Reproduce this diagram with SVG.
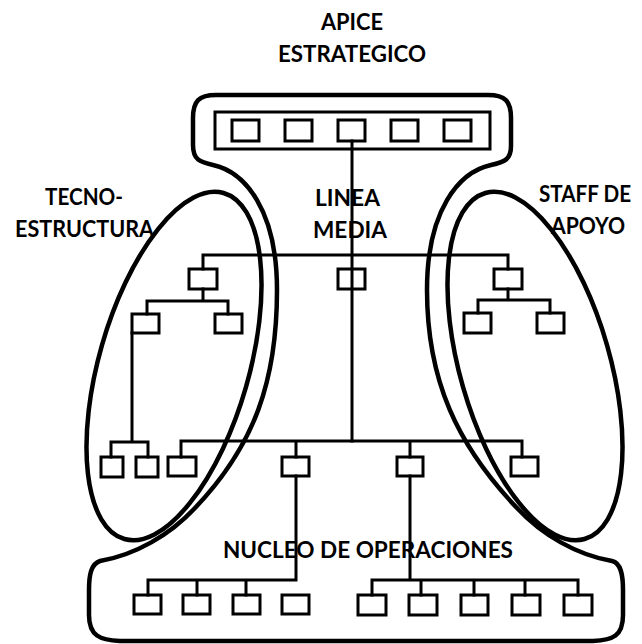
<svg xmlns="http://www.w3.org/2000/svg" width="642" height="644" viewBox="0 0 642 644">
<style>
.outline{fill:none;stroke:#000;stroke-width:4.5;stroke-linejoin:round}
.ln{fill:none;stroke:#000;stroke-width:3;stroke-linecap:square}
.box{fill:none;stroke:#000;stroke-width:3}
.lbl{font-family:Lato,"Open Sans","Liberation Sans",sans-serif;font-weight:bold;font-size:23px;fill:#000}
</style>
<rect width="642" height="644" fill="#fff"/>
<g id="outline">
<path class="outline" d="M216 95 L488 95 C505 95 511 101 511 118 L511 146 C511 160 504 162 491 165 C459 172 427 210 427 290 C427 380 457 445 517 508 C542 535 577 555 612 561 C621 563 623 575 623 590 L623 615 C623 636 613 640 593 641 L120 641 C100 640 89 636 89 615 L89 590 C89 575 91 564 100 561 C135 555 170 535 195 508 C255 445 277 380 277 290 C277 210 245 172 213 165 C200 162 193 160 193 145 L193 118 C193 101 199 95 216 95 Z"/>
<ellipse class="outline" cx="174" cy="366" rx="75" ry="180" transform="rotate(16 174 366)"/>
<ellipse class="outline" cx="535" cy="366" rx="75" ry="180" transform="rotate(-16 535 366)"/>
</g>
<g id="connectors">
<path class="ln" d="M352 141 V441"/>
<path class="ln" d="M203 255 H508 M203 255 V269 M508 255 V269"/>
<path class="ln" d="M203 289 V301 M147 301 H228 M147 301 V314 M228 301 V314"/>
<path class="ln" d="M132 333 V442 M111 442 H148 M111 442 V457 M148 442 V457"/>
<path class="ln" d="M508 289 V300 M478 300 H550 M478 300 V313 M550 300 V313"/>
<path class="ln" d="M181 441 H522 M181 441 V457 M296 441 V457 M410 441 V457 M522 441 V457"/>
<path class="ln" d="M296 476 V580 M148 580 H296 M148 580 V595 M197 580 V595 M246 580 V595"/>
<path class="ln" d="M410 476 V580 M372 580 H578 M372 580 V595 M421 580 V595 M474 580 V595 M525 580 V595 M578 580 V595"/>
</g>
<g id="apice">
<rect class="box" x="215" y="112" width="275" height="37"/>
<rect class="box" x="232" y="120" width="27" height="21"/>
<rect class="box" x="285" y="120" width="27" height="21"/>
<rect class="box" x="338" y="120" width="27" height="21"/>
<rect class="box" x="391" y="120" width="27" height="21"/>
<rect class="box" x="444" y="120" width="27" height="21"/>
<text class="lbl" x="321" y="30" textLength="62" lengthAdjust="spacingAndGlyphs">APICE</text>
<text class="lbl" x="278" y="62" textLength="148" lengthAdjust="spacingAndGlyphs">ESTRATEGICO</text>
</g>
<g id="linea-media">
<rect class="box" x="338" y="269" width="27" height="20"/>
<text class="lbl" x="315" y="206" textLength="65" lengthAdjust="spacingAndGlyphs">LINEA</text>
<text class="lbl" x="313" y="238" textLength="74" lengthAdjust="spacingAndGlyphs">MEDIA</text>
</g>
<g id="tecnoestructura">
<rect class="box" x="189" y="269" width="28" height="20"/>
<rect class="box" x="132" y="314" width="27" height="19"/>
<rect class="box" x="215" y="314" width="27" height="19"/>
<rect class="box" x="101" y="457" width="22" height="20"/>
<rect class="box" x="136" y="457" width="22" height="20"/>
<text class="lbl" x="45" y="205" textLength="78" lengthAdjust="spacingAndGlyphs">TECNO-</text>
<text class="lbl" x="15" y="237" textLength="139" lengthAdjust="spacingAndGlyphs">ESTRUCTURA</text>
</g>
<g id="staff-apoyo">
<rect class="box" x="494" y="269" width="28" height="20"/>
<rect class="box" x="464" y="313" width="27" height="20"/>
<rect class="box" x="537" y="313" width="27" height="20"/>
<text class="lbl" x="539" y="202" textLength="92" lengthAdjust="spacingAndGlyphs">STAFF DE</text>
<text class="lbl" x="551" y="234" textLength="74" lengthAdjust="spacingAndGlyphs">APOYO</text>
</g>
<g id="mandos-intermedios">
<rect class="box" x="168" y="457" width="28" height="19"/>
<rect class="box" x="282" y="457" width="27" height="19"/>
<rect class="box" x="397" y="457" width="26" height="19"/>
<rect class="box" x="511" y="457" width="27" height="19"/>
</g>
<g id="nucleo">
<rect class="box" x="134" y="595" width="27" height="19"/>
<rect class="box" x="183" y="595" width="27" height="19"/>
<rect class="box" x="233" y="595" width="27" height="19"/>
<rect class="box" x="282" y="595" width="27" height="19"/>
<rect class="box" x="358" y="595" width="28" height="20"/>
<rect class="box" x="409" y="595" width="28" height="20"/>
<rect class="box" x="461" y="595" width="27" height="20"/>
<rect class="box" x="512" y="595" width="28" height="20"/>
<rect class="box" x="564" y="595" width="28" height="20"/>
<text class="lbl" x="223" y="558" textLength="290" lengthAdjust="spacingAndGlyphs">NUCLEO DE OPERACIONES</text>
</g>
</svg>
